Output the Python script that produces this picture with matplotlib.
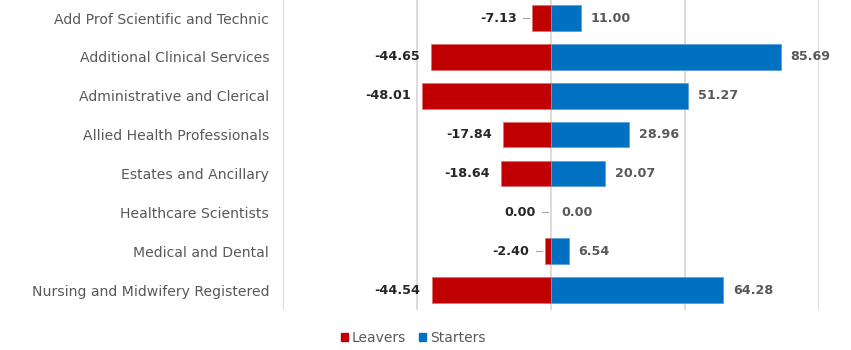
import numpy as np
import matplotlib.pyplot as plt
from matplotlib.patches import Patch

categories = [
    "Add Prof Scientific and Technic",
    "Additional Clinical Services",
    "Administrative and Clerical",
    "Allied Health Professionals",
    "Estates and Ancillary",
    "Healthcare Scientists",
    "Medical and Dental",
    "Nursing and Midwifery Registered",
]
leavers = [-7.13, -44.65, -48.01, -17.84, -18.64, 0.00, -2.40, -44.54]
starters = [11.00, 85.69, 51.27, 28.96, 20.07, 0.00, 6.54, 64.28]

RED = "#C00000"
BLUE = "#0070C0"

fig = plt.figure(figsize=(8.51, 3.5), dpi=100)
ax = fig.add_axes([0.3326, 0.1154, 0.6298, 0.8886])

y = np.arange(len(categories))
lw_l = [0.6 if v != 0 else 0 for v in leavers]
lw_s = [0.6 if v != 0 else 0 for v in starters]
ax.barh(y, leavers, height=0.66, color=RED, edgecolor="#e07070", linewidth=lw_l, zorder=3)
ax.barh(y, starters, height=0.66, color=BLUE, edgecolor="#5aa0dd", linewidth=lw_s, zorder=3)

ax.set_xlim(-100, 100)
ax.set_ylim(len(categories) - 0.5, -0.5)
ax.set_xticks([-100, -50, 0, 50, 100])
ax.set_xticklabels([])
ax.tick_params(axis="x", length=0)
ax.grid(axis="x", color="#d9d9d9", linewidth=1.3, zorder=0)
ax.set_yticks(y)
ax.set_yticklabels(categories, fontsize=10.1, color="#595959")
ax.tick_params(axis="y", length=0, pad=10)
for s in ax.spines.values():
    s.set_visible(False)

px = 200 / (0.6298 * 851)  # data units per pixel
for i, (l, s) in enumerate(zip(leavers, starters)):
    if abs(l) < 10:
        off = 15 * px
        ax.plot([l - 9 * px, l - 3 * px], [i, i], color="#a6a6a6", lw=0.8, zorder=2)
    else:
        off = 11 * px
    ax.text(l - off, i, f"{l:.2f}", ha="right", va="center", fontsize=9.2,
            fontweight="bold", color="#262626")
    ax.text(s + 10 * px, i, f"{s:.2f}", ha="left", va="center", fontsize=9.2,
            fontweight="bold", color="#595959")

handles = [Patch(color=RED, label="Leavers"), Patch(color=BLUE, label="Starters")]
fig.legend(handles=handles, loc="center", bbox_to_anchor=(413 / 851, 1 - 338 / 350),
           ncol=2, frameon=False, fontsize=10, handlelength=0.5, handleheight=0.5,
           handletextpad=0.3, columnspacing=0.9, labelcolor="#595959")

fig.savefig("out.png", dpi=100)
